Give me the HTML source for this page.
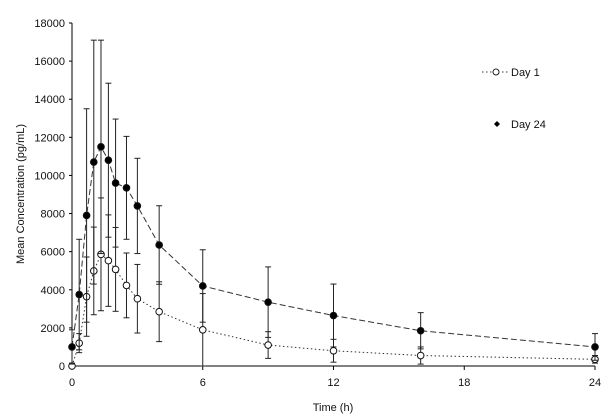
<!DOCTYPE html>
<html><head><meta charset="utf-8"><style>
body{margin:0;background:#fff;}
svg{display:block;font-family:"Liberation Sans",sans-serif;}
</style></head><body>
<svg id="chart" width="611" height="417">
<g id="axes"></g><g id="series"></g>
<g>
<line x1="482" y1="72" x2="509" y2="72" stroke="#333" stroke-dasharray="1.5,2.5"/>
<circle cx="496" cy="72" r="3" fill="#fff" stroke="#222"/>
<text x="511" y="76" font-size="11" fill="#111">Day 1</text>
<path d="M497,121 l3,3 l-3,3 l-3,-3z" fill="#000"/>
<text x="511" y="128" font-size="11" fill="#111">Day 24</text>
</g>
</svg>
<script>
const times=[0,0.33,0.67,1,1.33,1.67,2,2.5,3,4,6,9,12,16,24];
const day1=[0,1200,3640,4990,5860,5530,5070,4230,3530,2850,1900,1100,800,550,350];
const day1Sd=[150,500,2080,2300,2960,2400,2200,1700,1800,1570,1900,700,600,450,200];
const day24=[1000,3750,7900,10700,11500,10800,9600,9350,8400,6350,4200,3350,2650,1850,1000];
const day24Sd=[900,2900,5600,6400,5600,4040,3360,2700,2500,2060,1900,1850,1650,950,700];
const yTicks=[0,2000,4000,6000,8000,10000,12000,14000,16000,18000];
const xTicks=[0,6,12,18,24];
const NS="http://www.w3.org/2000/svg";
const X=t=>72+t*(523/24), Y=v=>366-v*(343/18000);
function el(tag,attrs,parent){const e=document.createElementNS(NS,tag);for(const k in attrs)e.setAttribute(k,attrs[k]);parent.appendChild(e);return e;}
const ax=document.getElementById('axes'), sg=document.getElementById('series');
let a=el('line',{x1:72,y1:Y(0),x2:595,y2:Y(0),stroke:'#000'},ax);


a=el('line',{x1:72,y1:Y(0),x2:72,y2:Y(18000),stroke:'#000'},ax);


yTicks.forEach(v=>{el('line',{x1:69,x2:72,y1:Y(v),y2:Y(v),stroke:'#000'},ax);
const t=el('text',{x:65,y:Y(v)+4,'text-anchor':'end','font-size':11,fill:'#111'},ax);t.textContent=v;

});
xTicks.forEach(v=>{el('line',{x1:X(v),x2:X(v),y1:Y(0),y2:Y(0)+4,stroke:'#000'},ax);
const t=el('text',{x:X(v),y:386,'text-anchor':'middle','font-size':11,fill:'#111'},ax);t.textContent=v;

});
let tt=el('text',{x:333,y:411,'text-anchor':'middle','font-size':11,fill:'#111'},ax);tt.textContent='Time (h)';


tt=el('text',{x:0,y:0,'text-anchor':'middle','font-size':11,fill:'#111',transform:'translate(24,194) rotate(-90)'},ax);tt.textContent='Mean Concentration (pg/mL)';


function series(vals,sds,dash,fill,name){
 const g=el('g',{},sg);
 
 
 vals.forEach((v,i)=>{const x=X(times[i]);const hi=Y(v+sds[i]),lo=Y(Math.max(0,v-sds[i]));
  el('line',{x1:x,x2:x,y1:hi,y2:lo,stroke:'#222'},g);
  el('line',{x1:x-3,x2:x+3,y1:hi,y2:hi,stroke:'#222'},g);
  el('line',{x1:x-3,x2:x+3,y1:lo,y2:lo,stroke:'#222'},g);});
 el('polyline',{points:vals.map((v,i)=>X(times[i])+','+Y(v)).join(' '),fill:'none',stroke:'#333','stroke-dasharray':dash},g);
 vals.forEach((v,i)=>{const c=el('circle',{cx:X(times[i]),cy:Y(v),r:3.3,fill:fill,stroke:'#111'},g);
  
  });
}
series(day1,day1Sd,'1.5,2.5','#fff','day1-series');
series(day24,day24Sd,'6,3','#000','day24-series');
</script>
</body></html>
